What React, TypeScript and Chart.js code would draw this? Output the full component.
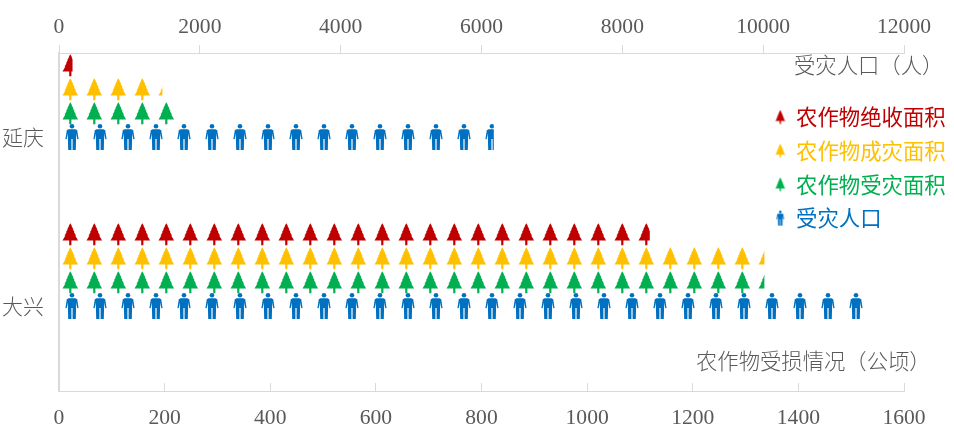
import React, { useEffect, useRef } from "react";
import { Chart, registerables } from "chart.js";

Chart.register(...registerables);

const categories = ["延庆", "大兴"];
const totalLossArea = [25, 1118];
const disasterArea = [195, 1335];
const affectedArea = [225, 1335];
const affectedPeople = [6170, 11530];
const emptySlot = [null, null];

const areaTicks = { min: 0, max: 1600, step: 200 };
const peopleTicks = { min: 0, max: 12000, step: 2000 };

const nameTotalLoss = "农作物绝收面积";
const nameDisaster = "农作物成灾面积";
const nameAffected = "农作物受灾面积";
const namePeople = "受灾人口";
const titlePeople = "受灾人口（人）";
const titleArea = "农作物受损情况（公顷）";

const RED = "#C00000";
const YELLOW = "#FFC000";
const GREEN = "#00B050";
const BLUE = "#0070C0";
const GRAY = "#595959";
const LINE = "#D9D9D9";
const CJK = '"Noto Sans CJK SC", "Noto Sans", sans-serif';
const SERIF = '"Liberation Serif", serif';

const PLOT_LEFT = 59;
const PLOT_TOP = 53;
const PLOT_RIGHT_GAP = 50;
const BAND = 169;
const TILE_ORIGIN_X = 58;

function traceTree(g: CanvasRenderingContext2D) {
  const side: [number, number][] = [
    [0, 0], [1.7, 3], [1.3, 3], [3.1, 6], [2.5, 6], [4.4, 9], [3.6, 9], [5.8, 12.2], [4.9, 12.2], [7.8, 17.3], [1.1, 17.3], [1.1, 22],
  ];
  g.beginPath();
  side.forEach(([x, y], i) => (i ? g.lineTo(x, y) : g.moveTo(x, y)));
  [...side].reverse().forEach(([x, y]) => g.lineTo(-x, y));
  g.closePath();
  g.fill();
}

function drawPerson(g: CanvasRenderingContext2D) {
  g.fillStyle = BLUE;
  g.beginPath();
  g.arc(0, 2.3, 2.3, 0, Math.PI * 2);
  g.fill();
  const pts: [number, number][] = [
    [-3.4, 5.2], [3.4, 5.2], [5.2, 6.2], [6.6, 15], [5.3, 15.3], [4.2, 9.5], [3.8, 26],
    [-3.8, 26], [-4.2, 9.5], [-5.3, 15.3], [-6.6, 15], [-5.2, 6.2],
  ];
  g.beginPath();
  pts.forEach(([x, y], i) => (i ? g.lineTo(x, y) : g.moveTo(x, y)));
  g.closePath();
  g.fill();
  g.fillStyle = "#9DC3E6";
  g.fillRect(-1, 15, 2, 11);
}

function treePattern(ctx: CanvasRenderingContext2D, color: string, offsetY: number) {
  const c = document.createElement("canvas");
  c.width = 24;
  c.height = BAND;
  const g = c.getContext("2d")!;
  g.translate(12.3, offsetY);
  g.fillStyle = color;
  traceTree(g);
  const p = ctx.createPattern(c, "repeat")!;
  p.setTransform(new DOMMatrix().translate(TILE_ORIGIN_X, PLOT_TOP));
  return p;
}

function personPattern(ctx: CanvasRenderingContext2D, offsetY: number) {
  const c = document.createElement("canvas");
  c.width = 28;
  c.height = BAND;
  const g = c.getContext("2d")!;
  g.translate(14, offsetY);
  drawPerson(g);
  const p = ctx.createPattern(c, "repeat")!;
  p.setTransform(new DOMMatrix().translate(TILE_ORIGIN_X, PLOT_TOP));
  return p;
}

function treeMarker(color: string) {
  const c = document.createElement("canvas");
  c.width = 12;
  c.height = 15;
  const g = c.getContext("2d")!;
  g.translate(6, 0.5);
  g.scale(0.63, 0.63);
  g.fillStyle = color;
  traceTree(g);
  return c;
}

function personMarker() {
  const c = document.createElement("canvas");
  c.width = 10;
  c.height = 16;
  const g = c.getContext("2d")!;
  g.translate(5, 0.5);
  g.scale(0.58, 0.58);
  drawPerson(g);
  return c;
}

const placeLegend = {
  id: "placeLegend",
  beforeDraw(chart: any) {
    const l = chart.legend;
    if (!l) return;
    l.left = 763;
    l.top = 94;
    l.right = 954;
    l.bottom = 300;
  },
};

const axisTitles = {
  id: "axisTitles",
  afterDraw(chart: any) {
    const g = chart.ctx;
    g.save();
    g.fillStyle = GRAY;
    g.textBaseline = "middle";
    g.textAlign = "left";
    g.font = `300 21.33px ${CJK}`;
    g.fillText(titlePeople, 794, 65);
    g.fillText(titleArea, 696, 361);
    g.restore();
  },
};

const plainTick = (v: any) => String(v);

export default function App() {
  const ref = useRef<HTMLCanvasElement>(null);

  useEffect(() => {
    document.body.style.margin = "0";
    const canvas = ref.current!;
    const ctx = canvas.getContext("2d")!;
    const markers = [treeMarker(RED), treeMarker(YELLOW), treeMarker(GREEN), personMarker()];
    const colors = [RED, YELLOW, GREEN, BLUE];
    const names = [nameTotalLoss, nameDisaster, nameAffected, namePeople];

    const tickFont = { family: SERIF, size: 21.6 };
    const chart = new Chart(canvas, {
      type: "bar",
      data: {
        labels: categories,
        datasets: [
          { label: nameTotalLoss, data: totalLossArea, xAxisID: "x", backgroundColor: treePattern(ctx, RED, 1.2), borderWidth: 0 },
          { label: nameDisaster, data: disasterArea, xAxisID: "x", backgroundColor: treePattern(ctx, YELLOW, 25.2), borderWidth: 0 },
          { label: nameAffected, data: affectedArea, xAxisID: "x", backgroundColor: treePattern(ctx, GREEN, 49.2), borderWidth: 0 },
          { label: namePeople, data: affectedPeople, xAxisID: "x2", backgroundColor: personPattern(ctx, 71), borderWidth: 0, barThickness: 30 },
          { label: "", data: emptySlot, xAxisID: "x" },
          { label: "", data: emptySlot, xAxisID: "x" },
          { label: "", data: emptySlot, xAxisID: "x" },
        ] as any,
      },
      options: {
        indexAxis: "y",
        responsive: false,
        animation: false,
        layout: { padding: { right: PLOT_RIGHT_GAP } },
        datasets: { bar: { categoryPercentage: 1, barPercentage: 1 } },
        scales: {
          x: {
            position: "bottom",
            min: areaTicks.min,
            max: areaTicks.max,
            afterFit: (s: any) => { s.height = 444 - (PLOT_TOP + 2 * BAND); s.paddingLeft = 0; s.paddingRight = 0; },
            ticks: { stepSize: areaTicks.step, color: GRAY, font: tickFont, padding: 22, maxRotation: 0, autoSkip: false, callback: plainTick },
            grid: { drawOnChartArea: false, drawTicks: true, tickLength: -8, color: LINE, lineWidth: 1 },
            border: { color: LINE, width: 1 },
          },
          x2: {
            position: "top",
            min: peopleTicks.min,
            max: peopleTicks.max,
            afterFit: (s: any) => { s.height = PLOT_TOP; s.paddingLeft = 0; s.paddingRight = 0; },
            ticks: { stepSize: peopleTicks.step, color: GRAY, font: tickFont, padding: 5, maxRotation: 0, autoSkip: false, callback: plainTick },
            grid: { drawOnChartArea: false, drawTicks: true, tickLength: 8, color: LINE, lineWidth: 1 },
            border: { color: LINE, width: 1 },
          },
          y: {
            afterFit: (s: any) => { s.width = PLOT_LEFT; },
            ticks: { color: GRAY, font: { family: CJK, size: 21, weight: "300" }, padding: 15 },
            grid: { display: true, drawOnChartArea: false, drawTicks: false },
            border: { color: LINE, width: 2 },
          },
        },
        plugins: {
          title: { display: false },
          tooltip: { enabled: false },
          legend: {
            position: "chartArea",
            align: "start",
            labels: {
              usePointStyle: true,
              pointStyleWidth: 10,
              padding: 12.3,
              font: { family: CJK, size: 21.4 },
              generateLabels: () =>
                names.map((text, i) => ({
                  text,
                  fontColor: colors[i],
                  pointStyle: markers[i],
                  datasetIndex: i,
                  hidden: false,
                  lineWidth: 0,
                })),
            },
          },
        },
      } as any,
      plugins: [placeLegend, axisTitles],
    });
    return () => chart.destroy();
  }, []);

  return (
    <div style={{ position: "absolute", left: 0, top: 0, width: 954, height: 444, overflow: "hidden", background: "#fff" }}>
      <canvas ref={ref} width={954} height={444} style={{ display: "block" }} />
    </div>
  );
}
